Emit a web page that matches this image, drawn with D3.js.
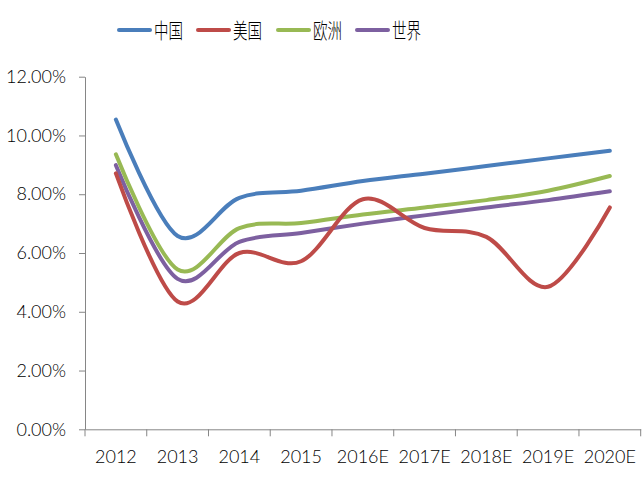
<!DOCTYPE html>
<html>
<head>
<meta charset="utf-8">
<script src="https://cdn.jsdelivr.net/npm/d3@7"></script>
<style>
    body { margin: 0; background: #fff; }
</style>
</head>
<body>
<div id="chart"></div>
<script>
const years = ["2012", "2013", "2014", "2015", "2016E", "2017E", "2018E", "2019E", "2020E"];
const seriesNames = ["中国", "美国", "欧洲", "世界"];
const chinaValues = [10.54, 6.58, 7.88, 8.12, 8.45, 8.7, 8.96, 9.22, 9.48];
const usValues = [8.71, 4.35, 6.0, 5.72, 7.83, 6.85, 6.55, 4.85, 7.55];
const europeValues = [9.36, 5.44, 6.85, 7.02, 7.31, 7.55, 7.8, 8.12, 8.62];
const worldValues = [8.99, 5.12, 6.38, 6.68, 7.0, 7.28, 7.55, 7.8, 8.1];
const yTicks = [0, 2, 4, 6, 8, 10, 12];
const colors = ["#4a7ebb", "#be4b48", "#98b954", "#7d60a0"];

const width = 642;
const height = 480;
const margin = { top: 76.7, right: 1.3, bottom: 50.7, left: 85 };

const series = [chinaValues, usValues, europeValues, worldValues].map((vals, i) => ({
    name: seriesNames[i],
    color: colors[i],
    values: vals
}));

const svg = d3.select("#chart")
    .append("svg")
    .attr("width", width)
    .attr("height", height);

const x = d3.scaleBand()
    .domain(years)
    .range([margin.left, width - margin.right]);

const y = d3.scaleLinear()
    .domain([0, 12])
    .range([height - margin.bottom, margin.top]);

const axisFont = "Lato, 'Open Sans', sans-serif";

// y axis
const yAxis = d3.axisLeft(y)
    .tickValues(yTicks)
    .tickSize(6)
    .tickSizeOuter(0)
    .tickFormat(d => d.toFixed(2) + "%");

svg.append("g")
    .attr("transform", "translate(" + margin.left + ",0)")
    .call(yAxis)
    .call(g => g.selectAll("path, line").attr("stroke", "#868686"))
    .call(g => g.selectAll("text")
        .attr("x", -19)
        .attr("fill", "#000")
        .attr("font-family", axisFont)
        .attr("font-weight", 300)
        .attr("font-size", 18));

// x axis
const xAxis = d3.axisBottom(x)
    .tickSize(0)
    .tickSizeOuter(0);

const gx = svg.append("g")
    .attr("transform", "translate(0," + (height - margin.bottom) + ")")
    .call(xAxis)
    .call(g => g.select("path").attr("stroke", "#868686"))
    .call(g => g.selectAll("text")
        .attr("y", 0)
        .attr("dy", "1.9em")
        .attr("fill", "#000")
        .attr("font-family", axisFont)
        .attr("font-weight", 300)
        .attr("font-size", 18));

// category boundary ticks
const bounds = years.map(d => x(d)).concat([x(years[years.length - 1]) + x.bandwidth()]);
gx.selectAll("line.bound")
    .data(bounds)
    .join("line")
    .attr("class", "bound")
    .attr("x1", d => d)
    .attr("x2", d => d)
    .attr("y1", 0)
    .attr("y2", 7)
    .attr("stroke", "#868686");

// lines
const line = d3.line()
    .x((d, i) => x(years[i]) + x.bandwidth() / 2)
    .y(d => y(d))
    .curve(d3.curveCardinal.tension(0));

// draw world first so order overlaps like the reference
svg.append("g")
    .selectAll("path")
    .data(series.slice().reverse())
    .join("path")
    .attr("d", d => line(d.values))
    .attr("fill", "none")
    .attr("stroke", d => d.color)
    .attr("stroke-width", 4)
    .attr("stroke-linecap", "round")
    .attr("stroke-linejoin", "round");

// legend
const legendX = [119, 198, 278, 357];
const legend = svg.append("g")
    .selectAll("g")
    .data(series)
    .join("g")
    .attr("transform", (d, i) => "translate(" + legendX[i] + ",30)");

legend.append("line")
    .attr("x1", 0)
    .attr("x2", 31)
    .attr("stroke", d => d.color)
    .attr("stroke-width", 4)
    .attr("stroke-linecap", "round");

legend.append("text")
    .attr("x", 35)
    .attr("y", 8)
    .attr("font-family", "'Noto Sans CJK SC', sans-serif")
    .attr("font-weight", 300)
    .attr("font-size", 21)
    .attr("textLength", 29)
    .attr("lengthAdjust", "spacingAndGlyphs")
    .attr("fill", "#000")
    .text(d => d.name);
</script>
</body>
</html>
